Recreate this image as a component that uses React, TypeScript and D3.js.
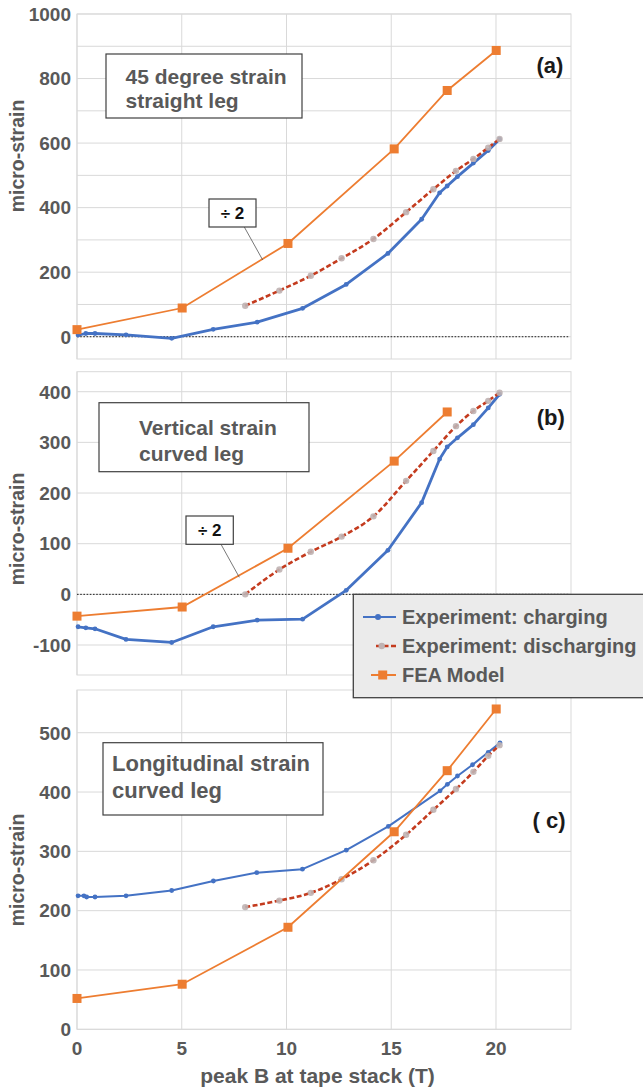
import React from "react";
import * as d3 from "d3";

// ---------- data ----------
const xTicks = [0, 5, 10, 15, 20];

const chargeXab = [0.05, 0.42, 0.86, 2.34, 4.52, 6.5, 8.6, 10.77, 12.85, 14.84, 16.45, 17.31, 17.67, 18.16, 18.92, 19.63, 20.17];
const chargeA = [5, 10, 10, 6, -5, 23, 45, 88, 162, 258, 364, 446, 467, 496, 538, 577, 612];
const chargeB = [-64, -66, -68, -89, -95, -64, -51, -49, 8, 87, 181, 267, 291, 309, 335, 368, 395];

const chargeXc = [0.05, 0.33, 0.46, 0.86, 2.34, 4.52, 6.51, 8.58, 10.76, 12.85, 14.86, 17.33, 17.68, 18.16, 18.88, 19.63, 20.19];
const chargeC = [225, 225, 223, 223, 225, 234, 250, 264, 270, 302, 342, 402, 413, 427, 446, 467, 483];

const dischargeX = [8.03, 9.66, 11.16, 12.63, 14.15, 15.71, 17.01, 18.09, 18.92, 19.63, 20.17];
const dischargeA = [96, 143, 189, 243, 303, 386, 457, 514, 551, 586, 613];
const dischargeB = [0, 49, 84, 114, 154, 224, 283, 332, 362, 382, 398];
const dischargeC = [206, 217, 230, 253, 285, 328, 370, 405, 434, 461, 479];

const feaX = [0, 5.02, 10.07, 15.14, 17.67, 20.01];
const feaA = [22, 89, 289, 582, 763, 887];
const feaB = [-43, -25, 91, 263, 360];
const feaC = [52, 76, 172, 333, 436, 540];

const yTicksA = [0, 200, 400, 600, 800, 1000];
const yTicksB = [-100, 0, 100, 200, 300, 400];
const yTicksC = [0, 100, 200, 300, 400, 500];

const legendLabels = ["Experiment: charging", "Experiment: discharging", "FEA Model"];

// ---------- style ----------
const FONT = '"Liberation Sans", Arial, Helvetica, sans-serif';
const GRAY_TEXT = "#595959";
const BLUE = "#4472C4";
const RED = "#C43B1E";
const DOT_GRAY = "#BFB2B2";
const ORANGE = "#ED7D31";
const GRID = "#D9D9D9";

const LEFT = 77;
const RIGHT = 571;
const X_MAX = 23.58;

const x = d3.scaleLinear().domain([0, X_MAX]).range([LEFT, RIGHT]);

type Panel = {
  key: string;
  top: number;
  bottom: number;
  yDomain: [number, number];
  gridMin: number;
  gridMax: number;
  ticks: number[];
  charge: number[];
  chargeX: number[];
  discharge: number[];
  fea: number[];
  chargeWidth: number;
  zeroLine: boolean;
  titleY: number;
  label: string;
  labelX: number;
  labelY: number;
  box: { x: number; y: number; w: number; h: number; tx: number; lines: string[]; base: number[]; fs: number };
  div?: { x: number; y: number; w: number; h: number; lx1: number; ly1: number; lx2: number; ly2: number };
};

const panels: Panel[] = [
  {
    key: "a", top: 14, bottom: 359, yDomain: [-69, 1000], gridMin: 0, gridMax: 1000,
    ticks: yTicksA, charge: chargeA, chargeX: chargeXab, discharge: dischargeA, fea: feaA,
    chargeWidth: 2.8, zeroLine: true, titleY: 156, label: "(a)", labelX: 550, labelY: 73,
    box: { x: 106, y: 54, w: 196, h: 64, tx: 125.5, lines: ["45 degree strain", "straight leg"], base: [84, 107.5], fs: 21 },
    div: { x: 209, y: 199, w: 47, h: 28, lx1: 244.3, ly1: 227, lx2: 262.7, ly2: 260 },
  },
  {
    key: "b", top: 371.7, bottom: 675, yDomain: [-159.2, 439.5], gridMin: -100, gridMax: 400,
    ticks: yTicksB, charge: chargeB, chargeX: chargeXab, discharge: dischargeB, fea: feaB,
    chargeWidth: 2.8, zeroLine: true, titleY: 529, label: "(b)", labelX: 550.7, labelY: 424.5,
    box: { x: 99, y: 402.7, w: 210, h: 69, tx: 139, lines: ["Vertical strain", "curved leg"], base: [434.5, 460.5], fs: 21 },
    div: { x: 186, y: 516, w: 47.3, h: 28.3, lx1: 221, ly1: 544.3, lx2: 239.3, ly2: 577.3 },
  },
  {
    key: "c", top: 690, bottom: 1029.3, yDomain: [0, 572], gridMin: 0, gridMax: 500,
    ticks: yTicksC, charge: chargeC, chargeX: chargeXc, discharge: dischargeC, fea: feaC,
    chargeWidth: 2, zeroLine: false, titleY: 870, label: "( c)", labelX: 549, labelY: 828,
    box: { x: 103, y: 742.7, w: 220, h: 72.3, tx: 112, lines: ["Longitudinal strain", "curved leg"], base: [771, 798], fs: 22 },
  },
];

function PanelView({ p }: { p: Panel }) {
  const y = d3.scaleLinear().domain(p.yDomain).range([p.bottom, p.top]);
  const gridVals = d3.range(p.gridMin, p.gridMax + 1, 100);
  const linLine = d3.line<[number, number]>().x((d) => x(d[0])).y((d) => y(d[1]));
  const smoothLine = d3
    .line<[number, number]>()
    .x((d) => x(d[0]))
    .y((d) => y(d[1]))
    .curve(d3.curveMonotoneX);
  const chargePts: [number, number][] = p.chargeX.map((v, i) => [v, p.charge[i]]);
  const dischargePts: [number, number][] = dischargeX.map((v, i) => [v, p.discharge[i]]);
  const feaPts: [number, number][] = p.fea.map((v, i) => [feaX[i], v]);

  return (
    <g>
      {/* plot area border */}
      <rect x={LEFT} y={p.top} width={RIGHT - LEFT} height={p.bottom - p.top} fill="white" stroke={GRID} strokeWidth={1} />
      {gridVals.map((g) => (
        <line key={"h" + g} x1={LEFT} x2={RIGHT} y1={y(g)} y2={y(g)} stroke={GRID} strokeWidth={1} />
      ))}
      {xTicks.map((t) => (
        <line key={"v" + t} x1={x(t)} x2={x(t)} y1={p.top} y2={p.bottom} stroke={GRID} strokeWidth={1} />
      ))}
      {p.zeroLine && (
        <line x1={LEFT} x2={RIGHT - 2} y1={y(0)} y2={y(0)} stroke="#222" strokeWidth={1} strokeDasharray="1.6,1.6" />
      )}
      {/* y ticks */}
      {p.ticks.map((t) => (
        <text key={"t" + t} x={71} y={y(t) + 6.8} textAnchor="end" fontFamily={FONT} fontWeight="bold" fontSize={19} fill={GRAY_TEXT}>
          {t}
        </text>
      ))}
      {/* y title */}
      <text
        transform={`translate(24,${p.titleY}) rotate(-90)`}
        textAnchor="middle"
        fontFamily={FONT}
        fontWeight="bold"
        fontSize={19.5}
        fill={GRAY_TEXT}
      >
        micro-strain
      </text>
      {/* annotation box */}
      <rect x={p.box.x} y={p.box.y} width={p.box.w} height={p.box.h} fill="white" stroke="#404040" strokeWidth={1.2} />
      {p.box.lines.map((l, i) => (
        <text key={l} x={p.box.tx} y={p.box.base[i]} fontFamily={FONT} fontWeight="bold" fontSize={p.box.fs} fill={GRAY_TEXT}>
          {l}
        </text>
      ))}
      {/* series */}
      <path d={linLine(chargePts) || ""} fill="none" stroke={BLUE} strokeWidth={p.chargeWidth} strokeLinejoin="round" />
      {chargePts.map((d, i) => (
        <circle key={"c" + i} cx={x(d[0])} cy={y(d[1])} r={2.4} fill={BLUE} />
      ))}
      <path d={smoothLine(dischargePts) || ""} fill="none" stroke={RED} strokeWidth={2.6} strokeDasharray="5,2.5" />
      {dischargePts.map((d, i) => (
        <circle key={"d" + i} cx={x(d[0])} cy={y(d[1])} r={3.2} fill={DOT_GRAY} opacity={0.9} />
      ))}
      <path d={linLine(feaPts) || ""} fill="none" stroke={ORANGE} strokeWidth={1.8} />
      {feaPts.map((d, i) => (
        <rect key={"f" + i} x={x(d[0]) - 4.5} y={y(d[1]) - 4.5} width={9} height={9} fill={ORANGE} />
      ))}
      {/* ÷2 annotation */}
      {p.div && (
        <g>
          <line x1={p.div.lx1} y1={p.div.ly1} x2={p.div.lx2} y2={p.div.ly2} stroke="#555" strokeWidth={0.8} />
          <rect x={p.div.x} y={p.div.y} width={p.div.w} height={p.div.h} fill="white" stroke="#404040" strokeWidth={1.2} />
          <text x={p.div.x + p.div.w / 2} y={p.div.y + p.div.h / 2 + 6} textAnchor="middle" fontFamily={FONT} fontWeight="bold" fontSize={17} fill="#111">
            ÷ 2
          </text>
        </g>
      )}
      <text x={p.labelX} y={p.labelY} textAnchor="middle" fontFamily={FONT} fontWeight="bold" fontSize={22} fill="#1a1a1a">
        {p.label}
      </text>
    </g>
  );
}

export default function App() {
  const last = panels[2];
  return (
    <svg width={643} height={1089} style={{ position: "absolute", left: 0, top: 0, background: "white" }}>
      {panels.map((p) => (
        <PanelView key={p.key} p={p} />
      ))}
      {/* x ticks */}
      {xTicks.map((t) => (
        <text key={t} x={x(t)} y={1054.5} textAnchor="middle" fontFamily={FONT} fontWeight="bold" fontSize={19} fill={GRAY_TEXT}>
          {t}
        </text>
      ))}
      <text x={317.5} y={1082.5} textAnchor="middle" fontFamily={FONT} fontWeight="bold" fontSize={21} fill={GRAY_TEXT}>
        peak B at tape stack (T)
      </text>
      {/* legend */}
      <g>
        <rect x={353.3} y={594.3} width={320} height={103.4} fill="#EBEBEB" stroke="#404040" strokeWidth={1.3} />
        <line x1={363} x2={396} y1={617} y2={617} stroke={BLUE} strokeWidth={2} />
        <circle cx={378} cy={617} r={3} fill={BLUE} />
        <line x1={376} x2={397} y1={646} y2={646} stroke={RED} strokeWidth={2.6} strokeDasharray="5,2.5" />
        <circle cx={381.7} cy={646} r={3.2} fill={DOT_GRAY} />
        <line x1={371} x2={396} y1={675} y2={675} stroke={ORANGE} strokeWidth={2} />
        <rect x={378.2} y={670.5} width={9} height={9} fill={ORANGE} />
        {legendLabels.map((l, i) => (
          <text key={l} x={402} y={624 + i * 29} fontFamily={FONT} fontWeight="bold" fontSize={20} fill={GRAY_TEXT}>
            {l}
          </text>
        ))}
      </g>
      {last && null}
    </svg>
  );
}
